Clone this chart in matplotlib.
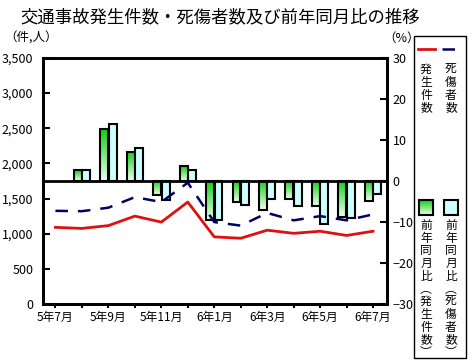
import numpy as np
import matplotlib
matplotlib.use('Agg')
import matplotlib.pyplot as plt
from matplotlib.patches import Rectangle
from matplotlib.colors import LinearSegmentedColormap

plt.rcParams['font.family'] = ['Noto Sans CJK JP', 'DejaVu Sans']

# データ
months = ['5年7月', '5年8月', '5年9月', '5年10月', '5年11月', '5年12月', '6年1月',
          '6年2月', '6年3月', '6年4月', '6年5月', '6年6月', '6年7月']
hassei = [1090, 1075, 1115, 1250, 1165, 1450, 955, 935, 1050, 1005, 1035, 975, 1035]
shisho = [1325, 1320, 1370, 1520, 1450, 1725, 1165, 1115, 1295, 1190, 1250, 1190, 1275]
# 前年同月比(%) 5年8月から
ratio_hassei = [2.6, 12.6, 7.1, -3.5, 3.6, -9.5, -5.2, -7.2, -4.5, -6.1, -8.8, -4.9]
ratio_shisho = [2.6, 13.8, 8.1, -4.7, 2.6, -9.6, -5.8, -4.3, -6.1, -10.6, -9.1, -3.3]

fig = plt.figure(figsize=(4.73, 3.63), dpi=100)
ax = fig.add_axes([0.0909, 0.1625, 0.727, 0.678])
ax2 = ax.twinx()

x = np.arange(len(months))
xb = x[1:]
w = 0.3

green = LinearSegmentedColormap.from_list('g', ['#10d010', '#f0fff0'])
grad = np.linspace(0, 1, 64).reshape(-1, 1)

for xi, v in zip(xb, ratio_hassei):
    r = Rectangle((xi - 0.16 - w / 2, 0), w, v, facecolor='none', edgecolor='black', linewidth=1.5, zorder=3)
    ax.add_patch(r)
    lo, hi = min(0, v), max(0, v)
    im = ax.imshow(grad, cmap=green, aspect='auto', extent=(xi - 0.16 - w / 2, xi - 0.16 + w / 2, lo, hi),
                   origin='upper', zorder=2)
    im.set_clip_path(r)
for xi, v in zip(xb, ratio_shisho):
    ax.add_patch(Rectangle((xi + 0.16 - w / 2, 0), w, v, facecolor='#ccffff', edgecolor='black',
                           linewidth=1.5, zorder=3))

ax.axhline(0, color='black', linewidth=2, zorder=4)
ax.set_xlim(-0.47, 12.52)
ax.set_ylim(-30, 30)
ax.yaxis.tick_right()
ax.set_yticks([-30, -20, -10, 0, 10, 20, 30])
ax.tick_params(axis='y', direction='in', length=5, width=1.5, labelsize=9, pad=4)

ax2.plot(x, hassei, color='#dd1111', linewidth=2, zorder=5)
ax2.plot(x, shisho, color='#000066', linewidth=1.8, dashes=(5, 4), zorder=5)
ax2.set_ylim(0, 3500)
ax2.yaxis.tick_left()
ax2.set_yticks(range(0, 3501, 500))
ax2.set_yticklabels(['{:,}'.format(v) for v in range(0, 3501, 500)])
ax2.tick_params(axis='y', direction='in', length=5, width=1.5, labelsize=9, pad=7)

ax.set_xticks(x)
ax.set_xticklabels([m if i % 2 == 0 else '' for i, m in enumerate(months)])
ax.tick_params(axis='x', direction='out', length=3, width=1.5, labelsize=8.5, pad=2)

for a in (ax, ax2):
    for s in a.spines.values():
        s.set_linewidth(2)

fig.text(0.042, 0.953, '交通事故発生件数・死傷者数及び前年同月比の推移', fontsize=12.5, va='center', ha='left')
fig.text(0.008, 0.895, '（件,人）', fontsize=9, va='center', ha='left')
fig.text(0.81, 0.895, '（%）', fontsize=9, va='center', ha='left')

# 凡例
fig.patches.append(Rectangle((414 / 473, 1 - 358 / 363), 52 / 473, 322 / 363, transform=fig.transFigure,
                             facecolor='white', edgecolor='black', linewidth=1, figure=fig))
fig.lines.append(plt.Line2D([418 / 473, 435 / 473], [1 - 49 / 363] * 2, transform=fig.transFigure,
                            color='#dd1111', linewidth=2))
fig.lines.append(plt.Line2D([442 / 473, 460 / 473], [1 - 49 / 363] * 2, transform=fig.transFigure,
                            color='#000066', linewidth=1.8, dashes=(5, 4)))
fig.text(426 / 473, 1 - 63 / 363, '\n'.join('発生件数'), fontsize=8.5, linespacing=0.98, ha='center', va='top')
fig.text(451 / 473, 1 - 63 / 363, '\n'.join('死傷者数'), fontsize=8.5, linespacing=0.98, ha='center', va='top')

lax = fig.add_axes([419 / 473, 1 - 215 / 363, 14 / 473, 15 / 363])
lax.imshow(grad, cmap=green, aspect='auto')
lax.set_xticks([])
lax.set_yticks([])
for s in lax.spines.values():
    s.set_linewidth(1.5)
lax.set_zorder(3)
fig.patches.append(Rectangle((444 / 473, 1 - 215 / 363), 14 / 473, 15 / 363, transform=fig.transFigure,
                             facecolor='#ccffff', edgecolor='black', linewidth=1.5, figure=fig))
fig.text(426 / 473, 1 - 219 / 363, '\n'.join('前年同月比︵発生件数︶'), fontsize=8.5, linespacing=0.97,
         ha='center', va='top')
fig.text(451 / 473, 1 - 219 / 363, '\n'.join('前年同月比︵死傷者数︶'), fontsize=8.5, linespacing=0.97,
         ha='center', va='top')

fig.savefig('out.png', dpi=100)
